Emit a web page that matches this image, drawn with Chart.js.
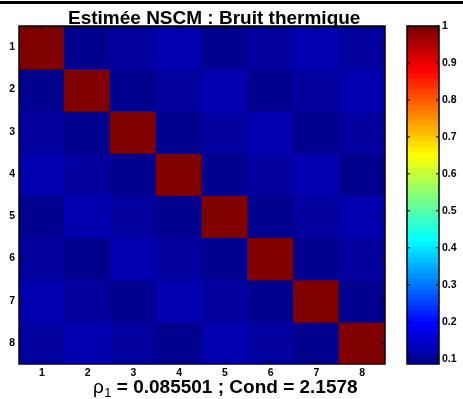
<!DOCTYPE html>
<html><head><meta charset="utf-8">
<script src="https://cdn.jsdelivr.net/npm/chart.js@4/dist/chart.umd.min.js"></script>
<style>
html,body{margin:0;padding:0;background:#fff;}
#wrap{position:relative;width:463px;height:399px;overflow:hidden;background:#fff;}
#heat{position:absolute;left:0;top:0;}
#cbar{position:absolute;left:400px;top:0;}
</style></head><body>
<div id="wrap"><canvas id="heat" width="463" height="399"></canvas><canvas id="cbar" width="63" height="399"></canvas></div>
<script>
// ---- data ----
const titleText = 'Estimée NSCM : Bruit thermique';
const xLabelRho = 'ρ';
const xLabelSub = '1';
const xLabelRest = ' = 0.085501 ; Cond = 2.1578';
const rowLabels = ['1','2','3','4','5','6','7','8'];
const colLabels = ['1','2','3','4','5','6','7','8'];
const row1 = [1.000, 0.092, 0.108, 0.124, 0.094, 0.106, 0.119, 0.110];
const row2 = [0.092, 1.000, 0.089, 0.111, 0.122, 0.085501, 0.105, 0.117];
const row3 = [0.108, 0.089, 1.000, 0.091, 0.109, 0.120, 0.088, 0.104];
const row4 = [0.124, 0.111, 0.091, 1.000, 0.093, 0.107, 0.123, 0.090];
const row5 = [0.094, 0.122, 0.109, 0.093, 1.000, 0.087, 0.112, 0.118];
const row6 = [0.106, 0.085501, 0.120, 0.107, 0.087, 1.000, 0.097, 0.106];
const row7 = [0.119, 0.105, 0.088, 0.123, 0.112, 0.097, 1.000, 0.095];
const row8 = [0.110, 0.117, 0.104, 0.090, 0.118, 0.106, 0.095, 1.000];
const cMin = 0.085501;
const cMax = 1;
const cbTicks = [0.1, 0.2, 0.3, 0.4, 0.5, 0.6, 0.7, 0.8, 0.9, 1];
const cbTickLabels = ['0.1','0.2','0.3','0.4','0.5','0.6','0.7','0.8','0.9','1'];

const matrix = [row1, row2, row3, row4, row5, row6, row7, row8];

// MATLAB jet colormap (64 entries)
function jetMap(m) {
  const n = Math.ceil(m / 4);
  const u = [];
  for (let i = 1; i <= n; i++) u.push(i / n);
  for (let i = 1; i <= n - 1; i++) u.push(1);
  for (let i = n; i >= 1; i--) u.push(i / n);
  const off = Math.ceil(n / 2) - (m % 4 === 1 ? 1 : 0);
  const J = Array.from({length: m}, () => [0, 0, 0]);
  const g = [], r = [], b = [];
  for (let i = 1; i <= u.length; i++) {
    const gi = off + i;
    if (gi <= m) g.push(gi);
    if (gi + n <= m) r.push(gi + n);
    if (gi - n >= 1) b.push(gi - n);
  }
  r.forEach((idx, k) => { J[idx - 1][0] = u[k]; });
  g.forEach((idx, k) => { J[idx - 1][1] = u[k]; });
  b.forEach((idx, k) => { J[idx - 1][2] = u[u.length - b.length + k]; });
  return J.map(c => 'rgb(' + Math.round(c[0] * 255) + ',' + Math.round(c[1] * 255) + ',' + Math.round(c[2] * 255) + ')');
}
const NC = 64;
const jet = jetMap(NC);
function colorFor(v) {
  let idx = Math.floor((v - cMin) / (cMax - cMin) * NC);
  idx = Math.max(0, Math.min(NC - 1, idx));
  return jet[idx];
}

Chart.defaults.font.family = '"Liberation Sans", Arial, sans-serif';
Chart.defaults.color = '#000';
const tickFont = {family: '"Liberation Sans", Arial, sans-serif', size: 10.5, weight: 'bold'};

const heatDatasets = matrix.map((row, r) => ({
  label: 'row ' + rowLabels[r],
  data: colLabels.map((c, j) => ({x: c, y: [Number(rowLabels[r]) - 0.5, Number(rowLabels[r]) + 0.5]})),
  backgroundColor: row.map(v => colorFor(v)),
  borderWidth: 0,
  inflateAmount: 0.7,
  grouped: false,
  barPercentage: 1,
  categoryPercentage: 1
}));

function innerTicks(ctx, area, xs, ys, len) {
  ctx.save();
  ctx.strokeStyle = '#000';
  ctx.lineWidth = 1;
  ctx.beginPath();
  xs.forEach(x => {
    ctx.moveTo(x, area.top); ctx.lineTo(x, area.top + len);
    ctx.moveTo(x, area.bottom); ctx.lineTo(x, area.bottom - len);
  });
  ys.forEach(y => {
    ctx.moveTo(area.left, y); ctx.lineTo(area.left + len, y);
    ctx.moveTo(area.right, y); ctx.lineTo(area.right - len, y);
  });
  ctx.stroke();
  ctx.lineWidth = 1.5;
  ctx.strokeRect(area.left, area.top, area.right - area.left, area.bottom - area.top);
  ctx.restore();
}

const heatDecor = {
  id: 'heatDecor',
  beforeDraw(chart) {
    const ctx = chart.ctx;
    ctx.save();
    ctx.fillStyle = '#fff';
    ctx.fillRect(0, 0, chart.width, chart.height);
    ctx.restore();
  },
  afterDraw(chart) {
    const ctx = chart.ctx;
    const area = chart.chartArea;
    const xs = chart.scales.x.ticks.map((t, i) => chart.scales.x.getPixelForTick(i));
    const ys = chart.scales.y.ticks.map(t => chart.scales.y.getPixelForValue(t.value));
    innerTicks(ctx, area, xs, ys, 3.5);
    ctx.save();
    // top rule
    ctx.fillStyle = '#000';
    ctx.fillRect(0, 1, chart.width, 3);
    // title
    ctx.font = 'bold 19px "Liberation Sans", Arial, sans-serif';
    ctx.textBaseline = 'alphabetic';
    ctx.textAlign = 'left';
    ctx.fillText(titleText, 68, 23.5);
    // x label
    let x = 93;
    const base = 393;
    ctx.font = '19px "Liberation Sans", Arial, sans-serif';
    ctx.fillText(xLabelRho, x, base);
    x += ctx.measureText(xLabelRho).width + 0.5;
    ctx.font = '13px "Liberation Sans", Arial, sans-serif';
    ctx.fillText(xLabelSub, x, base + 4);
    x += ctx.measureText(xLabelSub).width;
    ctx.font = 'bold 19px "Liberation Sans", Arial, sans-serif';
    ctx.fillText(xLabelRest, x, base);
    ctx.restore();
  }
};

new Chart(document.getElementById('heat'), {
  type: 'bar',
  data: {labels: colLabels, datasets: heatDatasets},
  options: {
    responsive: false,
    maintainAspectRatio: false,
    devicePixelRatio: 1,
    animation: false,
    events: [],
    layout: {padding: {left: 0, right: 78, top: 26, bottom: 0}},
    plugins: {legend: {display: false}, tooltip: {enabled: false}, title: {display: false}},
    scales: {
      x: {
        type: 'category',
        grid: {display: false, drawTicks: false},
        border: {display: false},
        ticks: {font: tickFont, padding: 3, maxRotation: 0, autoSkip: false},
        afterFit(s) { s.height = 35; }
      },
      y: {
        type: 'linear',
        min: 0.5, max: 8.5,
        reverse: true,
        grid: {display: false, drawTicks: false},
        border: {display: false},
        ticks: {font: tickFont, padding: 4, callback: (v, i) => rowLabels[i]},
        afterBuildTicks(s) { s.ticks = rowLabels.map(l => ({value: Number(l)})); },
        afterFit(s) { s.width = 19; }
      }
    }
  },
  plugins: [heatDecor]
});

// ---- colorbar ----
const edges = [];
for (let i = 0; i <= NC; i++) edges.push(cMin + (cMax - cMin) * i / NC);
const cbDatasets = jet.map((col, i) => ({
  label: 'c' + i,
  data: [[edges[i], edges[i + 1]]],
  backgroundColor: col,
  borderWidth: 0,
  inflateAmount: 0.6,
  grouped: false,
  barPercentage: 1,
  categoryPercentage: 1
}));

const cbDecor = {
  id: 'cbDecor',
  afterDraw(chart) {
    const area = chart.chartArea;
    const ys = chart.scales.y.ticks.map(t => chart.scales.y.getPixelForValue(t.value));
    innerTicks(chart.ctx, area, [], ys, 3);
  }
};

new Chart(document.getElementById('cbar'), {
  type: 'bar',
  data: {labels: [''], datasets: cbDatasets},
  options: {
    responsive: false,
    maintainAspectRatio: false,
    devicePixelRatio: 1,
    animation: false,
    events: [],
    layout: {padding: {left: 7, right: 0, top: 26, bottom: 35}},
    plugins: {legend: {display: false}, tooltip: {enabled: false}},
    scales: {
      x: {display: false},
      y: {
        type: 'linear',
        position: 'right',
        min: cMin, max: cMax,
        grid: {display: false, drawTicks: false},
        border: {display: false},
        ticks: {font: tickFont, padding: 3, callback: (v, i) => cbTickLabels[i]},
        afterBuildTicks(s) { s.ticks = cbTicks.map(v => ({value: v})); },
        afterFit(s) { s.width = 24; }
      }
    }
  },
  plugins: [cbDecor]
});
</script>
</body></html>
